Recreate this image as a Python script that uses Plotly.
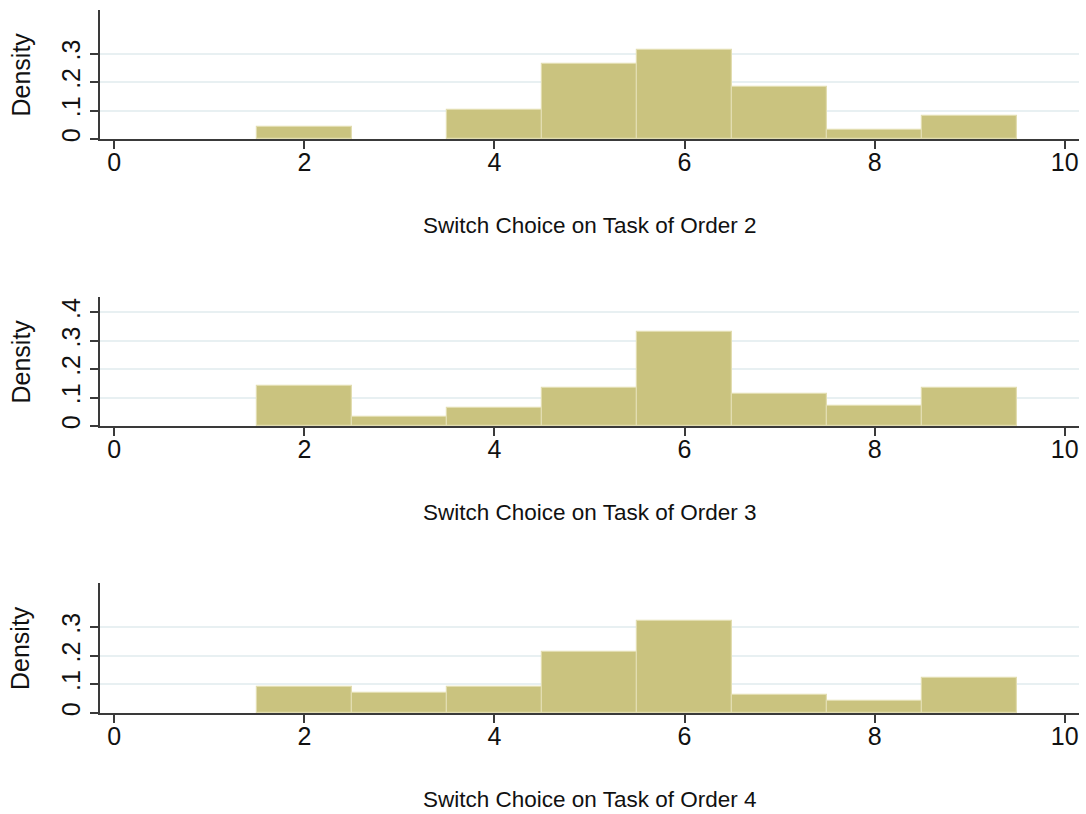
import plotly.graph_objects as go

bins = [2, 3, 4, 5, 6, 7, 8, 9]
density_order2 = [0.042, None, 0.103, 0.263, 0.313, 0.183, 0.033, 0.082]
density_order3 = [0.141, 0.032, 0.063, 0.132, 0.332, 0.112, 0.071, 0.132]
density_order4 = [0.092, 0.071, 0.091, 0.212, 0.322, 0.062, 0.043, 0.121]
titles = ["Switch Choice on Task of Order 2",
          "Switch Choice on Task of Order 3",
          "Switch Choice on Task of Order 4"]
y_ticks = [[0, 0.1, 0.2, 0.3], [0, 0.1, 0.2, 0.3, 0.4], [0, 0.1, 0.2, 0.3]]
y_ticktext = [["0", ".1", ".2", ".3"], ["0", ".1", ".2", ".3", ".4"], ["0", ".1", ".2", ".3"]]
x_ticks = [0, 2, 4, 6, 8, 10]

FONT = "Liberation Sans, Arial, sans-serif"
BAR = "#cac37f"
EDGE = "#e2ddb0"
AXIS = "#3a3a3a"
GRID = "#e8f0f2"

T, B = 10, 101
H = 814
PH = H - T - B


def py(px):
    return (H - B - px) / PH


domains = [(py(139), py(10)), (py(426), py(297)), (py(713), py(583))]
title_y = [py(226), py(512), py(799)]

fig = go.Figure()
series = [density_order2, density_order3, density_order4]
for i, vals in enumerate(series):
    k = "" if i == 0 else str(i + 1)
    fig.add_trace(go.Bar(
        x=bins, y=vals, width=1,
        marker=dict(color=BAR, line=dict(color=EDGE, width=1.2)),
        xaxis="x" + k, yaxis="y" + k, showlegend=False,
    ))
    fig.layout["xaxis" + k] = dict(
        domain=[0, 1], anchor="y" + k, range=[-0.15, 10.15],
        tickvals=x_ticks, ticks="outside", ticklen=8, tickwidth=1.5,
        tickcolor=AXIS, showline=True, linecolor=AXIS, linewidth=1.8,
        showgrid=False, zeroline=False, ticklabelstandoff=-8,
        tickfont=dict(family=FONT, size=25, color="#111111"),
    )
    fig.layout["yaxis" + k] = dict(
        domain=list(domains[i]), anchor="x" + k, range=[0, 0.454],
        tickvals=y_ticks[i], ticktext=y_ticktext[i], tickangle=-90,
        ticks="outside", ticklen=8, tickwidth=1.5, tickcolor=AXIS,
        showline=True, linecolor=AXIS, linewidth=1.8,
        showgrid=True, gridcolor=GRID, gridwidth=1.5, zeroline=False,
        ticklabelstandoff=0,
        tickfont=dict(family=FONT, size=25, color="#111111"),
    )
    fig.add_annotation(
        text=titles[i], xref="paper", yref="paper",
        x=(590 - 100) / 979, y=title_y[i], xanchor="center", yanchor="middle",
        showarrow=False, font=dict(family=FONT, size=22.5, color="#111111"),
    )
    fig.add_annotation(
        text="Density", xref="paper", yref="paper",
        x=(20 - 100) / 979, y=(domains[i][0] + domains[i][1]) / 2,
        xanchor="center", yanchor="middle", textangle=-90,
        showarrow=False, font=dict(family=FONT, size=25, color="#111111"),
    )

fig.update_layout(
    width=1086, height=814,
    margin=dict(l=100, r=7, t=T, b=B),
    plot_bgcolor="white", paper_bgcolor="white",
    bargap=0,
)

fig.write_html("out.html",
               config={"displayModeBar": False},
               post_script="document.body.style.margin='0px';document.body.style.overflow='hidden';")
